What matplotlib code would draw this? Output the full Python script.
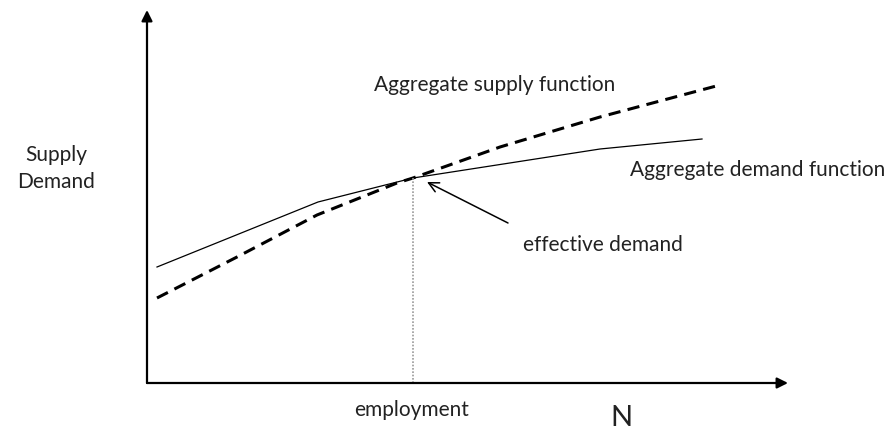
import matplotlib
matplotlib.use("Agg")
import matplotlib.pyplot as plt

# Conceptual chart: coordinates relative to origin (employment N, supply/demand)
demand_x = [10, 171, 266, 453, 555]
demand_y = [116, 181, 205, 234, 244]
supply_x = [10, 90, 170, 250, 266, 353, 453, 573]
supply_y = [85, 126, 168, 200, 205, 236, 266, 298]
eq_x, eq_y = 266, 205

plt.rcParams['font.family'] = ['Lato', 'DejaVu Sans']
fig = plt.figure(figsize=(8.86, 4.34), dpi=100)
ax = fig.add_axes([0, 0, 1, 1])
ax.set_xlim(-147, 739)
ax.set_ylim(-51, 383)
ax.axis('off')

# axes arrows
ax.annotate('', xy=(0, 373), xytext=(0, 0),
            arrowprops=dict(arrowstyle='-|>', color='black', lw=1.6, mutation_scale=16, shrinkA=0, shrinkB=0))
ax.annotate('', xy=(641, 0), xytext=(0, 0),
            arrowprops=dict(arrowstyle='-|>', color='black', lw=1.6, mutation_scale=16, shrinkA=0, shrinkB=0))

ax.plot(demand_x, demand_y, color='black', lw=0.9, solid_joinstyle='round')
ax.plot(supply_x, supply_y, color='black', lw=2.2, dashes=(4, 2.4))
ax.plot([eq_x, eq_x], [0, eq_y], color='#999999', lw=1.2, ls=(0, (1, 1)))

ax.annotate('', xy=(eq_x + 14, eq_y - 4), xytext=(361, 160),
            arrowprops=dict(arrowstyle='->', color='black', lw=1.1, mutation_scale=18, shrinkA=0, shrinkB=0))

fs = 15
ax.text(227, 298, 'Aggregate supply function', fontsize=fs, ha='left', va='center', color='#222222')
ax.text(483, 213, 'Aggregate demand function', fontsize=fs, ha='left', va='center', color='#222222')
ax.text(376, 138, 'effective demand', fontsize=fs, ha='left', va='center', color='#222222')
ax.text(-91, 228, 'Supply', fontsize=fs, ha='center', va='center', color='#222222')
ax.text(-91, 201, 'Demand', fontsize=fs, ha='center', va='center', color='#222222')
ax.text(265, -27, 'employment', fontsize=fs, ha='center', va='center', color='#222222')
ax.text(474, -35, 'N', fontsize=21, ha='center', va='center', color='#222222')

fig.savefig('out.png', dpi=100)
